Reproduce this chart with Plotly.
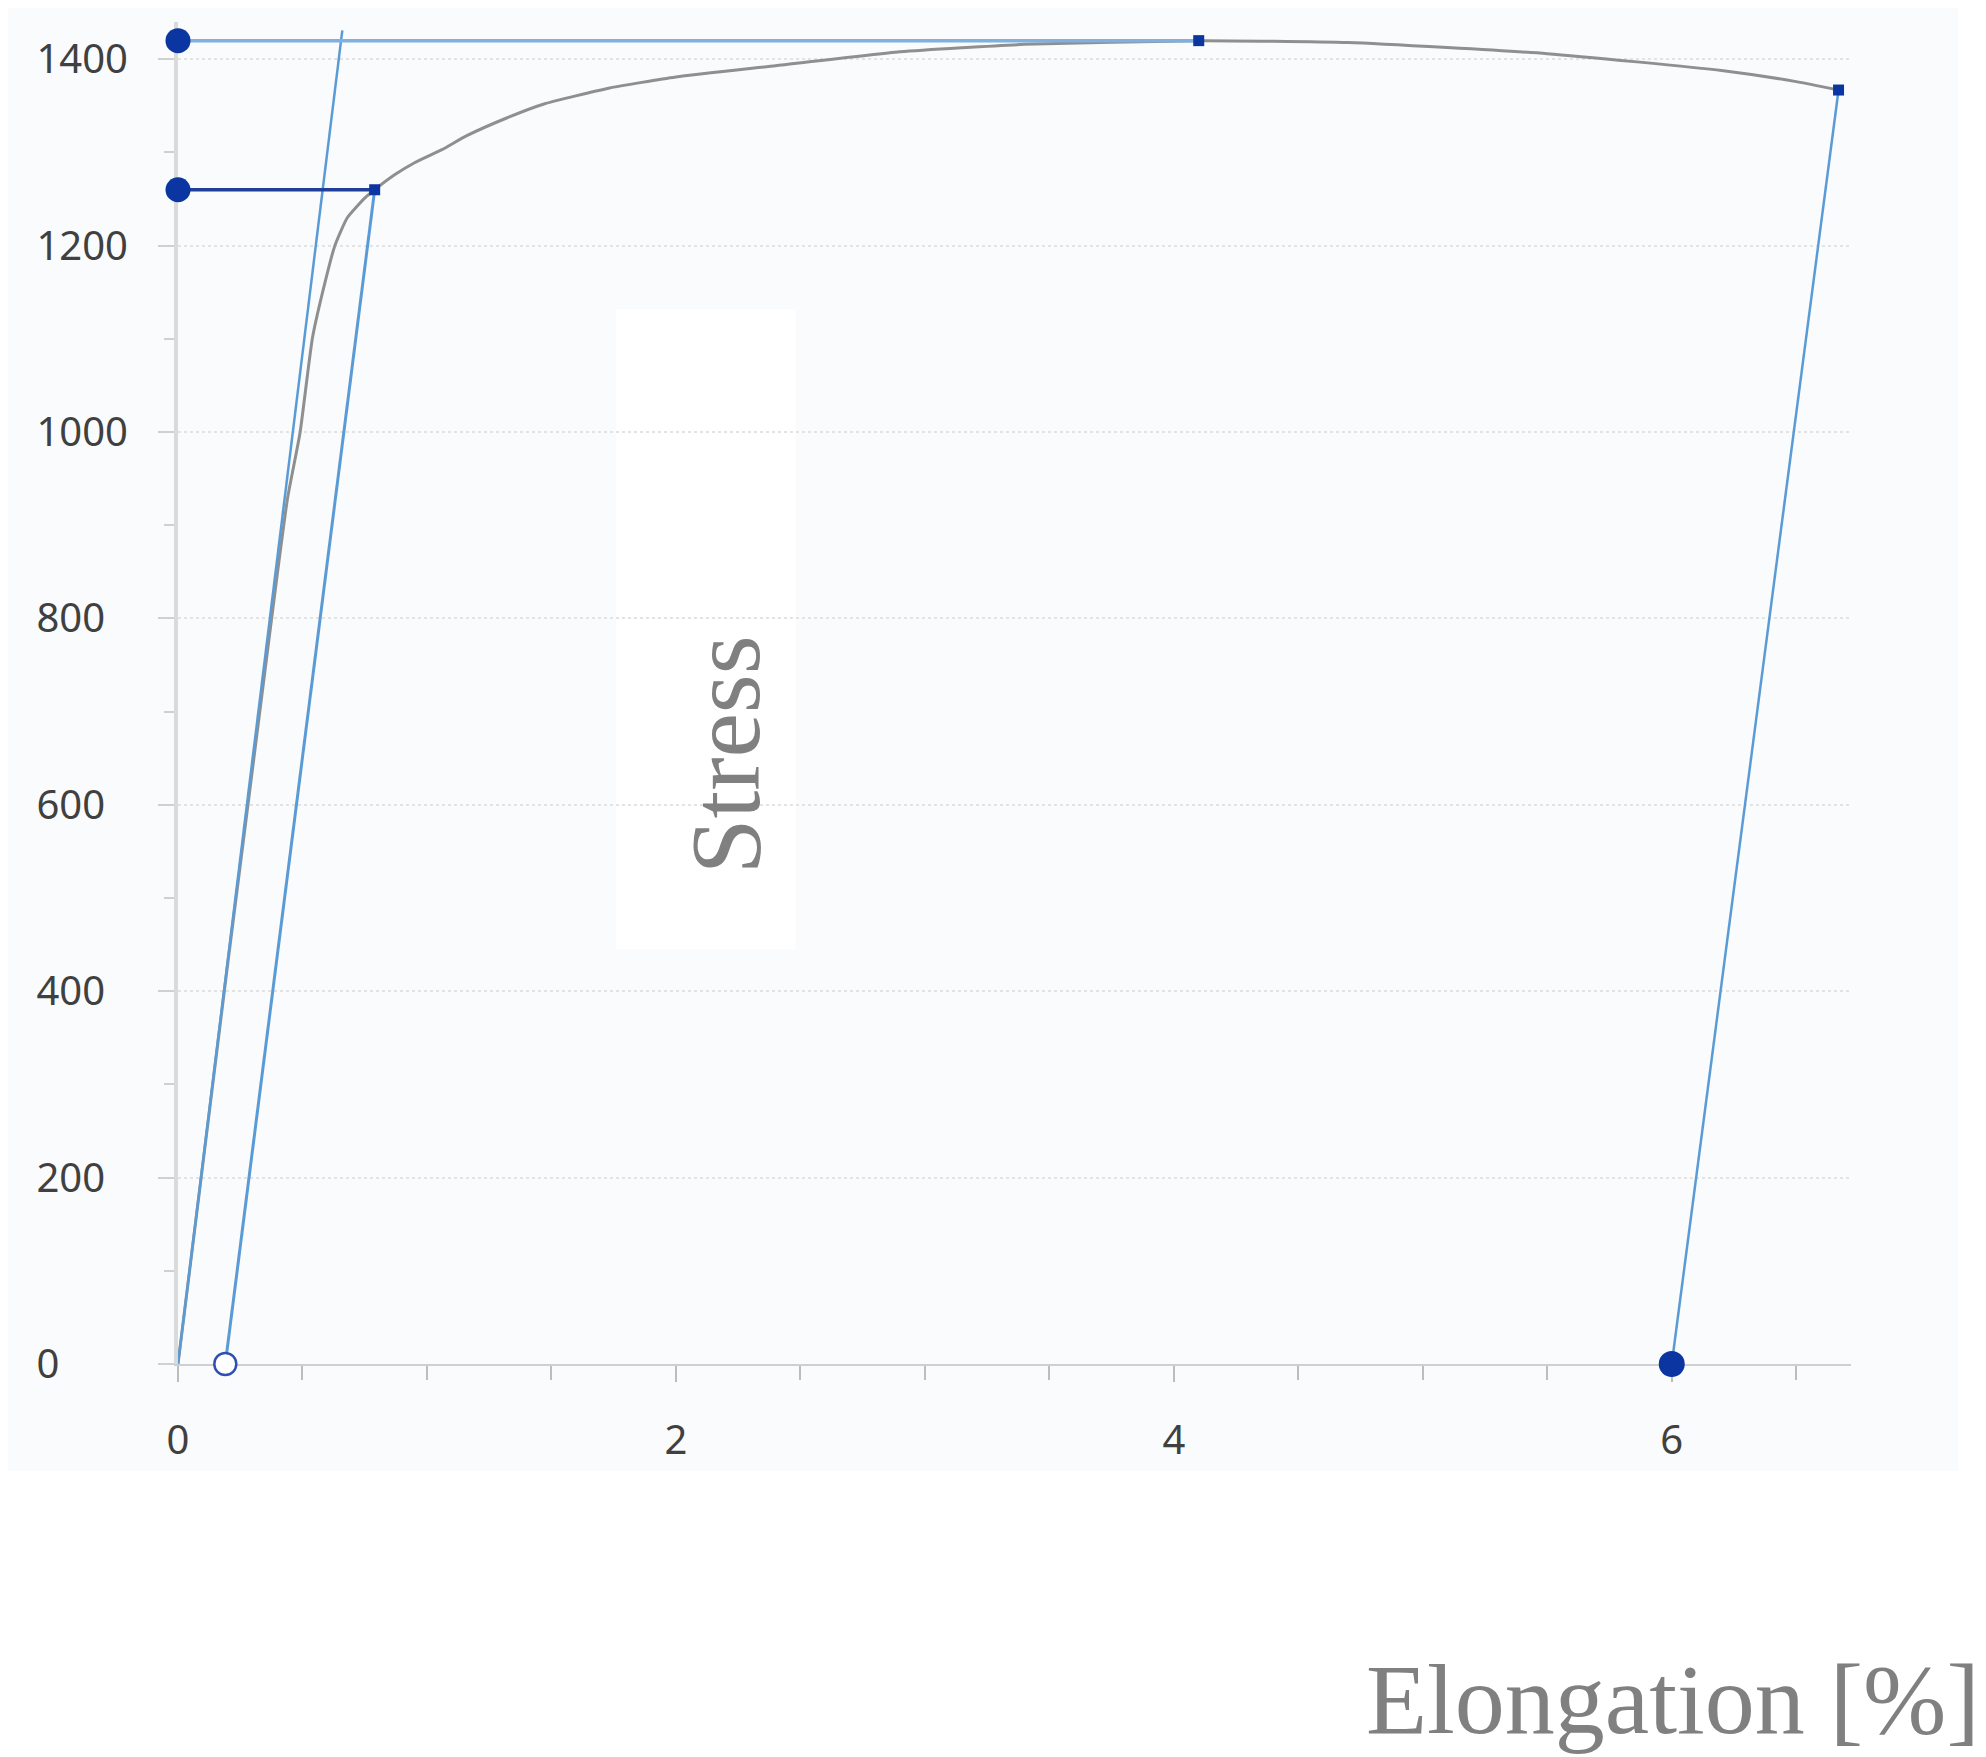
import plotly.graph_objs as go

# measured stress-strain curve (elongation in %, stress in MPa)
strain = [0, 0.10, 0.20, 0.30, 0.40, 0.44, 0.49, 0.54, 0.59, 0.63, 0.68, 0.75, 0.79,
          0.87, 0.95, 1.06, 1.16, 1.32, 1.47, 1.73, 2.0, 2.4, 2.9, 3.4, 4.1,
          4.7, 5.5, 6.2, 6.5, 6.67]
stress = [0, 215, 430, 640, 850, 929, 999, 1101, 1160, 1200, 1230, 1251, 1260,
          1276, 1289, 1303, 1318, 1337, 1352, 1369, 1381, 1393, 1408, 1416, 1420,
          1418, 1406, 1388, 1376, 1367]

# construction lines
elastic_x = [0, 0.66]
elastic_y = [0, 1431]
offset_x = [0.19, 0.79]
offset_y = [0, 1260]
rp_x = [0, 0.79]
rp_y = [1260, 1260]
rm_x = [0, 4.1]
rm_y = [1420, 1420]
break_x = [6.0, 6.67]
break_y = [0, 1367]

# characteristic points
axis_pts_x = [0, 0]
axis_pts_y = [1420, 1260]
small_pts_x = [0.79, 4.1, 6.67]
small_pts_y = [1260, 1420, 1367]
fracture_x = [6.0]
fracture_y = [0]
offset_origin_x = [0.19]
offset_origin_y = [0]

y_ticks = [0, 200, 400, 600, 800, 1000, 1200, 1400]
x_ticks = [0, 2, 4, 6]

LIGHT = '#5b9bd5'
DARK = '#0b35a0'
FS = '\u2007'
y_ticktext = [str(v) + FS * (4 - len(str(v))) for v in y_ticks]

data = [
    go.Scatter(x=strain, y=stress, mode='lines',
               line=dict(color='#8f8f8f', width=3, shape='spline', smoothing=0.5)),
    go.Scatter(x=elastic_x, y=elastic_y, mode='lines', line=dict(color=LIGHT, width=2.5)),
    go.Scatter(x=offset_x, y=offset_y, mode='lines', line=dict(color=LIGHT, width=3)),
    go.Scatter(x=rm_x, y=rm_y, mode='lines', line=dict(color='#7fb0df', width=3.5)),
    go.Scatter(x=rp_x, y=rp_y, mode='lines', line=dict(color='#1f3f99', width=3.5)),
    go.Scatter(x=break_x, y=break_y, mode='lines', line=dict(color=LIGHT, width=2.5)),
    go.Scatter(x=small_pts_x, y=small_pts_y, mode='markers', cliponaxis=False,
               marker=dict(symbol='square', size=11, color=DARK)),
    go.Scatter(x=axis_pts_x, y=axis_pts_y, mode='markers', cliponaxis=False,
               marker=dict(size=25, color=DARK)),
    go.Scatter(x=fracture_x, y=fracture_y, mode='markers', cliponaxis=False,
               marker=dict(size=26, color=DARK)),
    go.Scatter(x=offset_origin_x, y=offset_origin_y, mode='markers', cliponaxis=False,
               marker=dict(size=22, color='white', line=dict(color='#2f4fb5', width=2.5))),
]

layout = go.Layout(
    width=1986, height=1757,
    margin=dict(l=170, r=143, t=14, b=401),
    paper_bgcolor='white',
    plot_bgcolor='rgba(0,0,0,0)',
    showlegend=False,
    font=dict(family='Noto Sans', color='#404040', size=40),
    xaxis=dict(range=[0, 6.72], tickvals=x_ticks, showgrid=False, zeroline=False,
               showline=True, linecolor='#cfcfcf', linewidth=2, layer='below traces',
               ticks='outside', ticklen=16, tickcolor='#bdbdbd', tickwidth=2,
               ticklabelstandoff=24,
               minor=dict(dtick=0.5, ticks='outside', ticklen=14, tickcolor='#bdbdbd')),
    yaxis=dict(range=[0, 1440], tickvals=y_ticks, ticktext=y_ticktext,
               showgrid=True, gridcolor='#e3e3e3', griddash='dot', gridwidth=2,
               zeroline=False, showline=True, linecolor='#dadada', linewidth=4,
               layer='below traces',
               ticks='outside', ticklen=16, tickcolor='#d0d0d0', tickwidth=2,
               ticklabelstandoff=22,
               minor=dict(dtick=100, ticks='outside', ticklen=10, tickcolor='#d0d0d0')),
    shapes=[
        dict(type='rect', xref='paper', yref='paper', x0=-0.1016, x1=1.064,
             y0=-0.0797, y1=1.0104, fillcolor='#fafbfc', line=dict(width=0), layer='below'),
        dict(type='rect', xref='x', yref='y', x0=1.76, x1=2.48, y0=445, y1=1132,
             fillcolor='white', line=dict(width=0), layer='below'),
    ],
    annotations=[
        dict(text='Stress', x=2.20, y=654, xref='x', yref='y', textangle=-90,
             showarrow=False, font=dict(family='Liberation Serif', size=100, color='#808080')),
        dict(text='Elongation [%]', x=1.078, y=-0.25, xref='paper', yref='paper',
             xanchor='right', yanchor='middle', showarrow=False, borderpad=0,
             font=dict(family='Liberation Serif', size=100, color='#808080')),
    ],
)

fig = go.Figure(data=data, layout=layout)
fig.write_html("out.html")
